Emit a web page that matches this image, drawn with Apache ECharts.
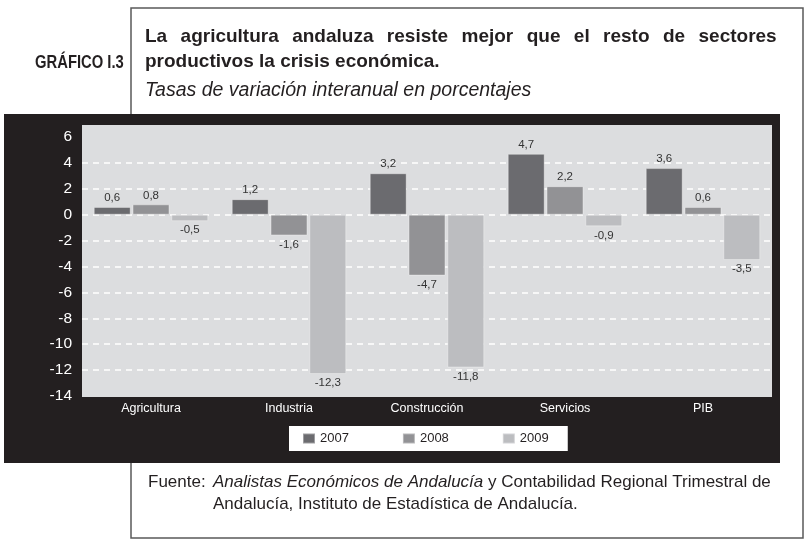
<!DOCTYPE html>
<html>
<head>
<meta charset="utf-8">
<script src="https://cdn.jsdelivr.net/npm/echarts@6/dist/echarts.min.js"></script>
<style>
  html, body { margin: 0; padding: 0; background: #fff; }
  #chart { width: 805px; height: 543px; }
</style>
</head>
<body>
<div id="chart"></div>
<script>
var sectores = ['Agricultura', 'Industria', 'Construcción', 'Servicios', 'PIB'];
var anios = ['2007', '2008', '2009'];
var v2007 = [0.6, 1.2, 3.2, 4.7, 3.6];
var v2008 = [0.8, -1.6, -4.7, 2.2, 0.6];
var v2009 = [-0.5, -12.3, -11.8, -0.9, -3.5];
var yMin = -14, yMax = 6, yStep = 2;

var FONT = '"Liberation Sans", Arial, sans-serif';
var colores = ['#6b6b6f', '#929295', '#bcbdc0'];

var chart = echarts.init(document.getElementById('chart'));

// etiqueta arriba si es positivo, abajo si es negativo
function conEtiqueta(arr) {
    return arr.map(function (v) {
        return { value: v, label: { position: v < 0 ? 'bottom' : 'top' } };
    });
}

function serie(nombre, valores, i) {
    return {
        name: nombre,
        type: 'bar',
        data: conEtiqueta(valores),
        barGap: '5%',
        barCategoryGap: '17%',
        itemStyle: {
            color: colores[i],
            borderColor: 'rgba(255,255,255,0.35)',
            borderWidth: 1
        },
        label: {
            show: true,
            distance: 3,
            color: '#333',
            fontSize: 11.5,
            fontFamily: FONT,
            formatter: function (p) {
                return p.value.toFixed(1).replace('.', ',');
            }
        }
    };
}

// primera línea del título justificada
var linea1 = 'La agricultura andaluza resiste mejor que el resto de sectores'.split(' ').join('{s| }');

var option = {
    animation: false,
    title: {
        left: 145,
        top: 24,
        text: linea1 + '\nproductivos la crisis económica.',
        textStyle: {
            fontFamily: FONT,
            fontSize: 19,
            fontWeight: 'bold',
            color: '#231f20',
            lineHeight: 25.5,
            rich: {
                s: { width: 13.4, fontSize: 19, fontWeight: 'bold', lineHeight: 25.5 }
            }
        },
        subtext: 'Tasas de variación interanual en porcentajes',
        subtextStyle: {
            fontFamily: FONT,
            fontSize: 19.5,
            fontStyle: 'italic',
            color: '#231f20',
            lineHeight: 22
        },
        itemGap: 5,
        padding: 0
    },
    legend: {
        data: anios,
        icon: 'rect',
        left: 289,
        top: 426,
        padding: [6, 19, 6, 13],
        itemGap: 53,
        itemWidth: 12,
        itemHeight: 10,
        backgroundColor: '#ffffff',
        textStyle: { fontFamily: FONT, fontSize: 13, color: '#231f20' }
    },
    grid: {
        left: 82,
        right: 33,
        top: 137,
        bottom: 147
    },
    xAxis: {
        type: 'category',
        data: sectores,
        position: 'bottom',
        axisLine: { show: false, onZero: false },
        axisTick: { show: false },
        axisLabel: { color: '#ffffff', fontSize: 12.5, fontFamily: FONT, margin: 6 }
    },
    yAxis: {
        type: 'value',
        min: yMin,
        max: yMax,
        interval: yStep,
        axisLine: { show: false },
        axisTick: { show: false },
        axisLabel: { color: '#ffffff', fontSize: 15.5, fontFamily: FONT, margin: 10 },
        splitLine: {
            show: true,
            showMinLine: false,
            showMaxLine: false,
            lineStyle: { color: '#ffffff', type: [6, 5], width: 1.5 }
        }
    },
    graphic: [
        {
            type: 'rect', z: -20,
            shape: { x: 131, y: 8, width: 672, height: 530 },
            style: { fill: '#ffffff', stroke: '#5a5a5a', lineWidth: 1.5 }
        },
        {
            type: 'rect', z: -15,
            shape: { x: 4, y: 114, width: 776, height: 349 },
            style: { fill: '#231f20' }
        },
        {
            type: 'rect', z: -10,
            shape: { x: 82, y: 125, width: 690, height: 272 },
            style: { fill: '#dcdddf' }
        },
        {
            type: 'text', x: 35, y: 63, scaleX: 0.8,
            style: {
                text: 'GRÁFICO I.3',
                font: 'bold 18.5px ' + FONT,
                fill: '#231f20',
                verticalAlign: 'middle'
            }
        },
        {
            type: 'text', x: 148, y: 482,
            style: {
                text: 'Fuente:',
                font: '17px ' + FONT,
                fill: '#231f20',
                verticalAlign: 'middle'
            }
        },
        {
            type: 'text', x: 213, y: 482,
            style: {
                text: '{i|Analistas Económicos de Andalucía} y Contabilidad Regional Trimestral de',
                font: '17px ' + FONT,
                fill: '#231f20',
                verticalAlign: 'middle',
                rich: {
                    i: { font: 'italic 17px ' + FONT, fill: '#231f20' }
                }
            }
        },
        {
            type: 'text', x: 213, y: 504,
            style: {
                text: 'Andalucía, Instituto de Estadística de Andalucía.',
                font: '17px ' + FONT,
                fill: '#231f20',
                verticalAlign: 'middle'
            }
        }
    ],
    series: [
        serie(anios[0], v2007, 0),
        serie(anios[1], v2008, 1),
        serie(anios[2], v2009, 2)
    ]
};

chart.setOption(option);
</script>
</body>
</html>
